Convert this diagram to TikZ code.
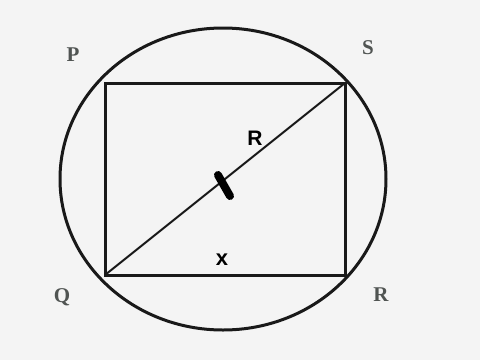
\documentclass[tikz,border=0pt]{standalone}
\usepackage{fontspec}
\setmainfont{Liberation Serif}
\setsansfont{Liberation Sans}
\definecolor{bg}{RGB}{244,244,244}
\definecolor{lab}{RGB}{80,84,82}
\definecolor{ink}{RGB}{25,25,25}
\begin{document}
\begin{tikzpicture}[x=1pt,y=-1pt,
  pt/.style={font=\fontsize{21}{21}\selectfont\bfseries, text=lab, inner sep=0pt},
  inlab/.style={font=\sffamily\bfseries\fontsize{21}{21}\selectfont, text=black, inner sep=0pt},
  edge/.style={draw=ink, line width=3pt}]
\fill[bg] (0,0) rectangle (480,360);
\useasboundingbox (0,0) rectangle (480,360);
\coordinate (P) at (105,83);
\coordinate (S) at (345,83);
\coordinate (R) at (345,275);
\coordinate (Q) at (105,275);
\draw[edge] (223,179) ellipse [x radius=163, y radius=151];
\draw[edge, line join=miter] (P) -- (S) -- (R) -- (Q) -- cycle;
\draw[draw=ink, line width=2pt] (Q) -- (S);
\coordinate (m1) at (218,175);
\coordinate (m2) at (230,196);
\draw[black, line width=8pt, line cap=round] (m1) -- (m2);
\node[pt] (lP) at (73,55) {P};
\node[pt] (lS) at (368,48) {S};
\node[pt] (lQ) at (62,297) {Q};
\node[pt] (lR) at (381,295) {R};
\node[inlab] (lr) at (255,138) {R};
\node[inlab, font=\sffamily\bfseries\fontsize{22}{22}\selectfont] (lx) at (222,260) {x};
\end{tikzpicture}
\end{document}
